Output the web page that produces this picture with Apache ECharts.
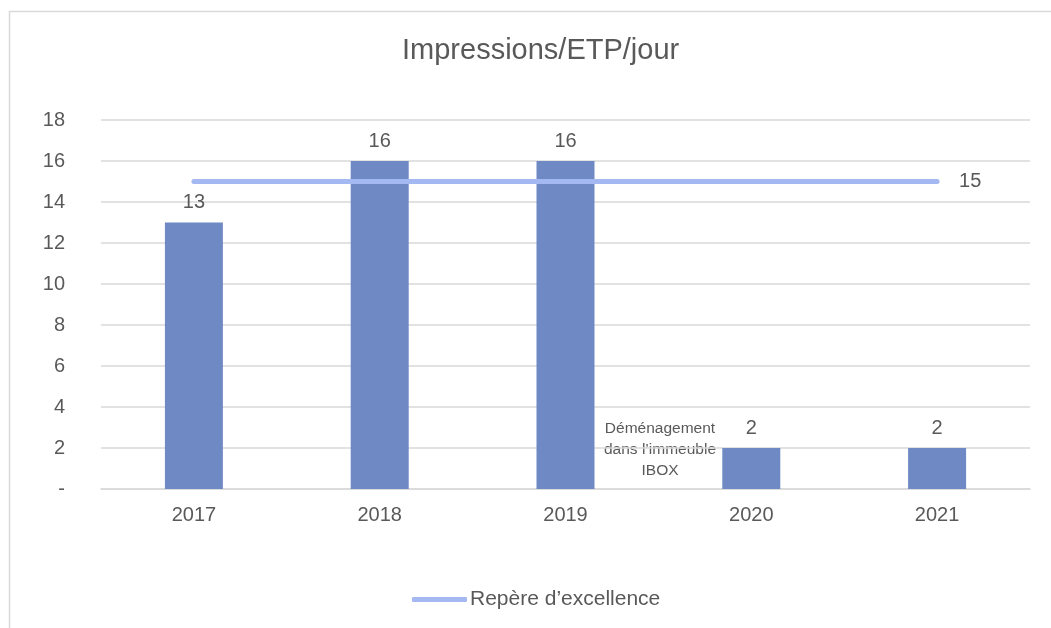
<!DOCTYPE html>
<html><head><meta charset="utf-8">
<script src="https://cdn.jsdelivr.net/npm/echarts@6/dist/echarts.min.js"></script>
<style>html,body{margin:0;padding:0;background:#fff}#c{width:1051px;height:628px}</style>
</head><body><div id="c"></div>
<script>
const categories = ['2017', '2018', '2019', '2020', '2021'];
const barValues = [13, 16, 16, 2, 2];
const benchmarkValues = [15, 15, 15, 15, 15];
const yTicks = [0, 2, 4, 6, 8, 10, 12, 14, 16, 18];
const annotationText = 'Déménagement\ndans l\u2019immeuble\nIBOX';

const chart = echarts.init(document.getElementById('c'));
const txt = '#595959';
const ff = 'Liberation Sans, Arial';
chart.setOption({
  animation: false,
  backgroundColor: '#fff',
  title: {
    text: 'Impressions/ETP/jour', left: 397, top: 31,
    textStyle: { fontFamily: ff, fontSize: 29, fontWeight: 'normal', color: txt }
  },
  grid: { left: 101, right: 21, top: 120, bottom: 139, containLabel: false },
  legend: {
    bottom: 13, left: 407, data: ['Repère d\u2019excellence'],
    itemWidth: 55, itemHeight: 5, itemGap: 3,
    icon: 'roundRect',
    textStyle: { fontFamily: ff, fontSize: 21, color: txt, padding: [0,0,0,-2] }
  },
  xAxis: {
    type: 'category', data: categories,
    axisLine: { lineStyle: { color: '#d9d9d9', width: 1.5 } },
    axisTick: { show: false },
    axisLabel: { color: txt, fontSize: 20, fontFamily: ff, margin: 16 }
  },
  yAxis: {
    type: 'value', min: 0, max: 18, interval: 2,
    axisLine: { show: false }, axisTick: { show: false },
    splitLine: { lineStyle: { color: '#d9d9d9', width: 1.5 } },
    axisLabel: {
      color: txt, fontSize: 20, fontFamily: ff, margin: 36,
      formatter: v => yTicks.includes(v) ? (v === 0 ? '-' : String(v)) : ''
    }
  },
  series: [
    {
      type: 'bar', name: 'Impressions', data: barValues, barWidth: 58,
      itemStyle: { color: '#6f89c5' },
      label: { show: true, position: 'top', distance: 10, color: txt, fontSize: 20, fontFamily: ff }
    },
    {
      type: 'line', name: 'Repère d\u2019excellence', data: benchmarkValues,
      symbol: 'none', z: 5,
      lineStyle: { color: '#a4b9f2', width: 5, cap: 'round' },
      itemStyle: { color: '#a4b9f2' },
      endLabel: { show: true, distance: 22, color: txt, fontSize: 20, fontFamily: ff }
    }
  ],
  graphic: [
    {
      type: 'rect', left: 7, top: 9, shape: { width: 1060, height: 640 },
      style: { fill: 'none', stroke: '#d9d9d9', lineWidth: 1.5 }, silent: true, z: -1
    },
    {
      type: 'text', left: 604, top: 418,
      style: { text: annotationText, textAlign: 'center', fill: txt, fontSize: 15.5,
        fontFamily: ff, lineHeight: 21, width: 112 }
    }
  ]
});
</script></body></html>
